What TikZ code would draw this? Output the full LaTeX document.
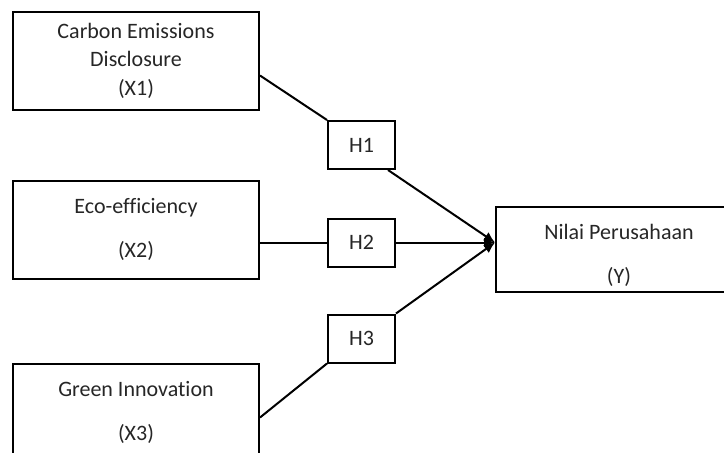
\documentclass[tikz,border=0pt]{standalone}
\usepackage{fontspec}
\setmainfont{Carlito}[Ligatures=NoCommon]
\usetikzlibrary{arrows.meta,positioning}

\begin{document}
\begin{tikzpicture}[
  x=0.5pt, y=-0.5pt,
  font=\fontsize{11pt}{14.3pt}\selectfont,
  var/.style={draw, line width=1pt, minimum width=123pt, minimum height=49pt,
              align=center, inner sep=2pt, text=black!85},
  hyp/.style={draw, line width=1pt, minimum width=33.5pt, minimum height=24pt,
              inner sep=2pt, text=black!85},
  link/.style={line width=1pt},
  >={Latex[length=5.5pt,width=5pt]},
]
\clip (0,0) rectangle (724,452);
\node[var] (ced) at (136,60.5) {Carbon Emissions\\Disclosure\\(X1)};
\node[var, below=34.5pt of ced] (eco) {Eco-efficiency\\[8pt](X2)};
\node[var, below=41.5pt of eco] (gi) {Green Innovation\\[8pt](X3)};
\node[hyp] (h1) at (361.5,145) {H1};
\node[hyp] (h2) at (361.5,242.5) {H2};
\node[hyp] (h3) at (361.5,338.5) {H3};
\node[var, minimum height=42.5pt,
      label={[yshift=-3pt, align=center, text=black!85]center:Nilai Perusahaan\\[8pt](Y)}]
      (nilai) at (619,249.5) {};
\coordinate (tip) at (nilai.west |- h2.east);
% paths to Y
\draw[link] ([yshift=-7.5pt]ced.east) -- (h1.north west);
\draw[link,->] ([xshift=-4pt]h1.south east) -- (tip);
\draw[link] (eco.east |- h2.west) -- (h2.west);
\draw[link,->] (h2.east) -- (tip);
\draw[link] ([yshift=-2.5pt]gi.east) -- (h3.south west);
\draw[link,->] (h3.north east) -- (tip);
\end{tikzpicture}
\end{document}
